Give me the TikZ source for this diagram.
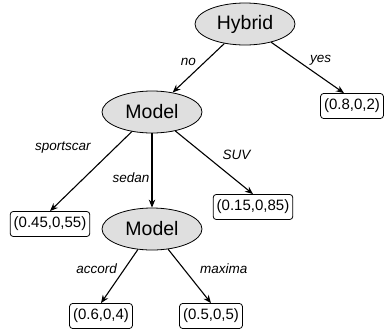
\documentclass[tikz,border=0pt]{standalone}
\usepackage{fontspec}
\setmainfont{Liberation Sans}
\usetikzlibrary{shapes.geometric, arrows.meta}

\tikzset{
    attr/.style={draw, ellipse, fill=gray!25, line width=0.8pt, inner sep=0pt,
        minimum width=100pt, minimum height=42pt, font=\fontsize{19.5}{22}\selectfont},
    leaf/.style={draw, rectangle, rounded corners=3pt, line width=0.8pt, inner xsep=3.5pt,
        minimum height=25pt, font=\fontsize{15}{17}\selectfont},
    lbl/.style={font=\fontsize{13.5}{15}\selectfont\itshape, inner sep=2pt}
}

\begin{document}
\begin{tikzpicture}[x=1pt, y=-1pt, >={Stealth[length=8pt, width=6.5pt]}, line width=1.1pt]
    \useasboundingbox (0,0) rectangle (385,335);

    % Nodes
    \node[attr] at (245, 24) (hybrid) {Hybrid};
    \node[attr] at (152, 112) (model1) {Model};
    \node[attr] at (152, 229) (model2) {Model};
    \node[leaf] at (352, 106) (p1) {(0.8,0,2)};
    \node[leaf] at (50, 224) (p2) {(0.45,0,55)};
    \node[leaf] at (253, 207) (p3) {(0.15,0,85)};
    \node[leaf] at (101, 316) (p4) {(0.6,0,4)};
    \node[leaf] at (211, 316) (p5) {(0.5,0,5)};

    % Edges
    \draw[->] (hybrid) -- (model1)
        node[lbl, midway, above left] {no};
    \draw[->] (hybrid) -- ([xshift=-8pt]p1.north)
        node[lbl, midway, above right] {yes};

    \draw[->] (model1) -- (p2.north)
        node[lbl, pos=0.3, above left, xshift=-14pt] {sportscar};
    \draw[->] (model1) -- (model2)
        node[lbl, pos=0.6, left] {sedan};
    \draw[->] (model1) -- (p3.north)
        node[lbl, midway, above right, xshift=6pt] {SUV};

    \draw[->] (model2) -- (p4.north)
        node[lbl, midway, above left] {accord};
    \draw[->] (model2) -- (p5.north)
        node[lbl, midway, above right, xshift=8pt] {maxima};
\end{tikzpicture}
\end{document}
